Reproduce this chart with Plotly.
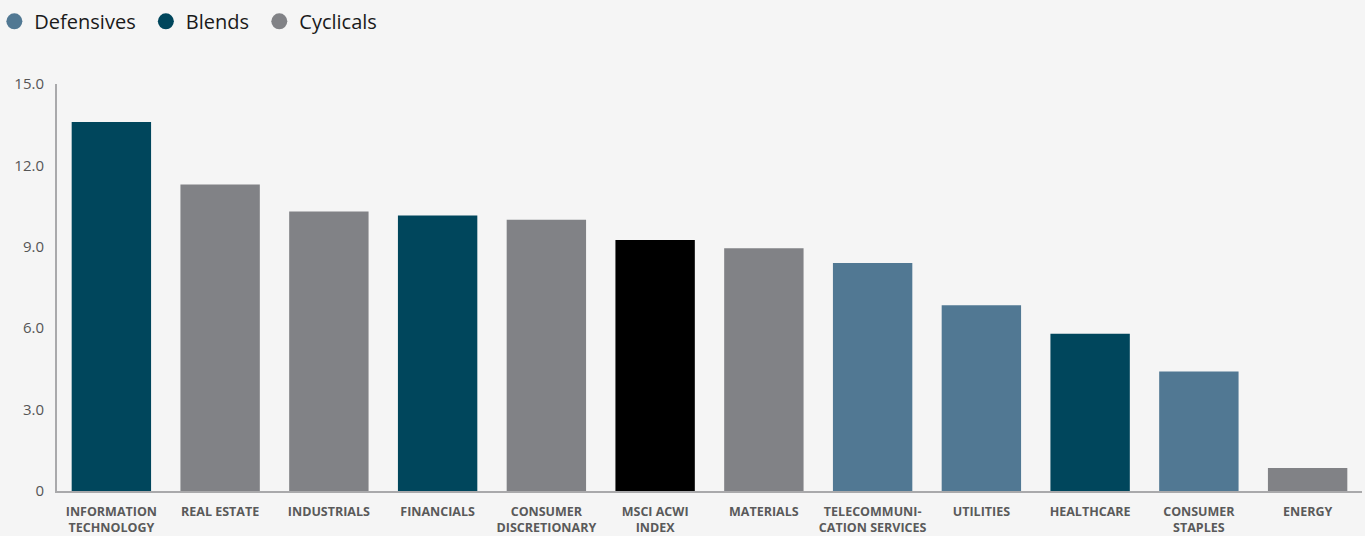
import plotly.graph_objects as go

categories = ["INFORMATION<br>TECHNOLOGY", "REAL ESTATE", "INDUSTRIALS", "FINANCIALS",
              "CONSUMER<br>DISCRETIONARY", "MSCI ACWI<br>INDEX", "MATERIALS",
              "TELECOMMUNI-<br>CATION SERVICES", "UTILITIES", "HEALTHCARE",
              "CONSUMER<br>STAPLES", "ENERGY"]
values = [13.6, 11.3, 10.3, 10.15, 10.0, 9.25, 8.95, 8.4, 6.85, 5.8, 4.4, 0.85]
groups = ["Blends", "Cyclicals", "Cyclicals", "Blends", "Cyclicals", "Index", "Cyclicals",
          "Defensives", "Defensives", "Blends", "Defensives", "Cyclicals"]
legend_names = ["Defensives", "Blends", "Cyclicals"]
ytick_vals = [0, 3, 6, 9, 12, 15]
ytick_text = ["0", "3.0", "6.0", "9.0", "12.0", "15.0"]

colors = {"Defensives": "#517893", "Blends": "#00465c", "Cyclicals": "#818286", "Index": "#000000"}

fig = go.Figure()
fig.add_trace(go.Bar(x=categories, y=values, marker_color=[colors[g] for g in groups],
                     marker_line_width=0, showlegend=False, hoverinfo="x+y"))
for n in legend_names:
    fig.add_trace(go.Scatter(x=[None], y=[None], mode="markers", name=n + "\u00a0",
                             marker=dict(symbol="circle", size=16, color=colors[n])))

fig.update_layout(
    width=1365, height=536,
    paper_bgcolor="#f5f5f5", plot_bgcolor="#f5f5f5",
    margin=dict(l=57, r=3, t=84, b=45, autoexpand=False),
    bargap=0.27,
    font=dict(family="Open Sans, sans-serif"),
    legend=dict(orientation="h", x=-0.048, xanchor="left", y=1.202, yanchor="top",
                font=dict(size=20, color="#1a1a1a"), itemsizing="trace",
                bgcolor="rgba(0,0,0,0)", itemwidth=30, tracegroupgap=0),
    xaxis=dict(type="category", showgrid=False, showline=True, linecolor="#a9a9ab", linewidth=2,
               ticks="outside", ticklen=8, tickcolor="rgba(0,0,0,0)", automargin=False,
               tickfont=dict(size=12.5, color="#5a5a5a", family="Open Sans, sans-serif",
                             weight="bold"),
               tickangle=0),
    yaxis=dict(range=[0, 15], tickvals=ytick_vals, ticktext=ytick_text, showgrid=False,
               zeroline=False, showline=True, linecolor="#a9a9ab", linewidth=2,
               ticks="outside", ticklen=8, tickcolor="rgba(0,0,0,0)", automargin=False,
               tickfont=dict(size=15, color="#555555")),
)

fig.write_html("out.html")
